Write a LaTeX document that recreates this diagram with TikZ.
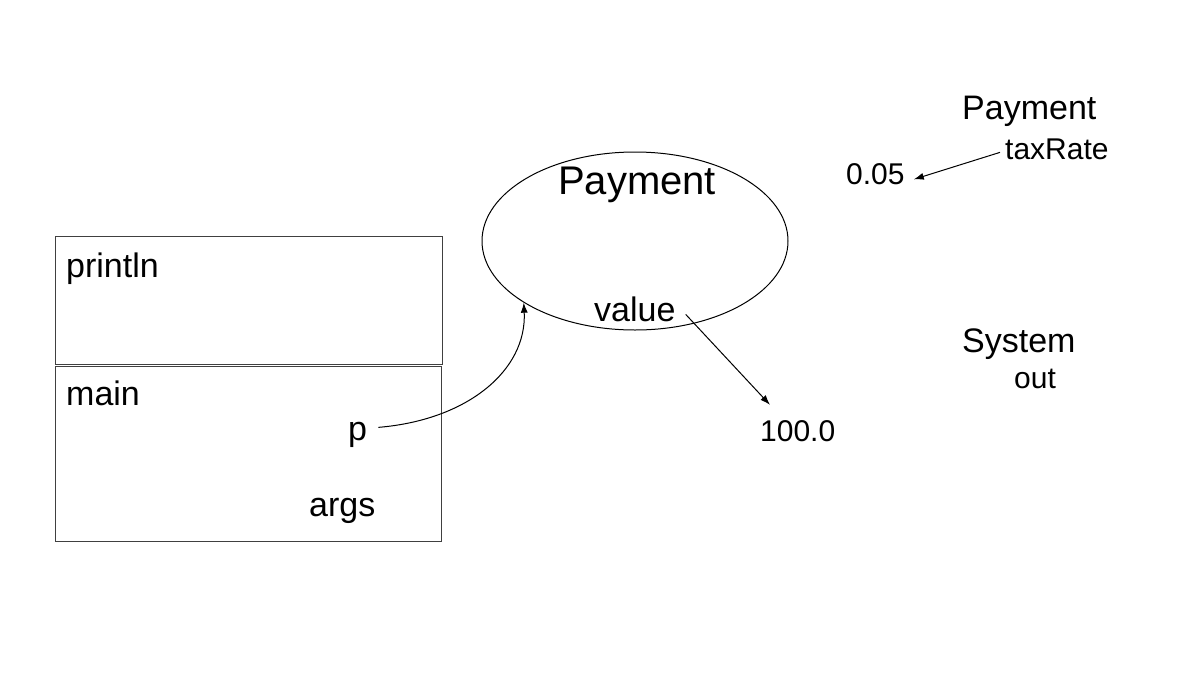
\documentclass[tikz,border=0pt]{standalone}
\usepackage{fontspec}
\setmainfont{Liberation Sans}
\usetikzlibrary{shapes.geometric,arrows.meta,calc}
\tikzset{
  lbl/.style={anchor=base west, inner sep=0pt, font=\fontsize{34}{40}\selectfont},
  sml/.style={anchor=base west, inner sep=0pt, font=\fontsize{30}{36}\selectfont},
  frame/.style={draw=black!75, line width=1.3pt, anchor=north west, inner sep=0pt},
  conn/.style={line width=1pt, -{Latex[length=10pt,width=7pt]}}
}
\begin{document}
\begin{tikzpicture}[x=1pt,y=-1pt]
\useasboundingbox (0,0) rectangle (1200,675);
% stack frames
\node[frame, minimum width=387pt, minimum height=128pt] (fprintln) at (55,236) {};
\node[frame, minimum width=386pt, minimum height=175pt] (fmain) at (55,366) {};
\node[lbl] (println) at (66,277) {println};
\node[lbl] (main) at (66,405) {main};
\node[lbl] (p) at (348,440) {p};
\node[lbl] (args) at (309,516) {args};
% object
\node[ellipse, draw, line width=1pt, minimum width=306pt, minimum height=178pt, inner sep=0pt] (ell) at (635,241) {};
\node[anchor=base west, inner sep=0pt, font=\fontsize{40}{46}\selectfont] (objname) at (558,194) {Payment};
\node[lbl] (value) at (594,321) {value};
\node[sml] (hund) at (760,441) {100.0};
% statics
\node[lbl] (spay) at (962,119) {Payment};
\node[sml] (tax) at (1005,159) {taxRate};
\node[sml] (zero) at (846,184) {0.05};
\node[lbl] (sys) at (962,352) {System};
\node[sml] (out) at (1014,388) {out};
% connectors
\draw[conn] ([shift={(11pt,10pt)}]p.mid east) .. controls (468,420) and (527,370) .. (ell.209);
\draw[conn] ([shift={(10pt,4pt)}]value.mid east) -- ([shift={(10pt,15pt)}]hund.north west);
\draw[conn] ([shift={(-5pt,4pt)}]tax.mid west) -- ([shift={(9pt,2pt)}]zero.mid east);
\end{tikzpicture}
\end{document}
